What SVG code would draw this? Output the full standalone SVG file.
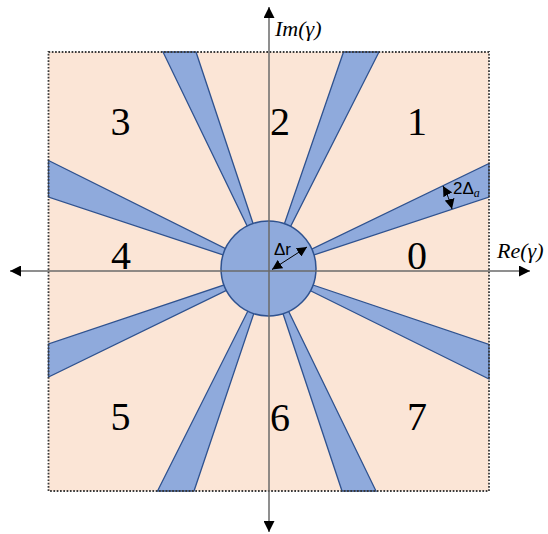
<svg xmlns="http://www.w3.org/2000/svg" width="548" height="534" viewBox="0 0 548 534">
  <defs>
    <style>
      .bg { fill: #FBE5D6; stroke: none; }
      .wedge { fill: #8FAADC; stroke: #2F528F; stroke-width: 1.3; stroke-linejoin: miter; }
      .disc { fill: #8FAADC; stroke: #2F528F; stroke-width: 1.5; }
      .border { fill: none; stroke: #3A3A3A; stroke-width: 1.8; stroke-dasharray: 1.7 1.6; }
      .axis { fill: none; stroke: #6A6A6A; stroke-width: 1.5; }
      .dim { fill: none; stroke: #000; stroke-width: 1; }
      .num { font-family: "Liberation Serif", serif; font-size: 40px; fill: #000; text-anchor: middle; }
      .axl { font-family: "Liberation Serif", serif; font-style: italic; font-size: 22px; fill: #000; }
      .small { font-family: "Liberation Sans", sans-serif; font-size: 17px; fill: #000; }
    </style>
    <marker id="ah" viewBox="0 0 12 12" refX="12" refY="6" markerWidth="12" markerHeight="11" orient="auto-start-reverse" markerUnits="userSpaceOnUse">
      <path d="M0,0 L12,6 L0,12 z" fill="#000"/>
    </marker>
    <marker id="sa" viewBox="0 0 10 10" refX="10" refY="5" markerWidth="10" markerHeight="10" orient="auto-start-reverse" markerUnits="userSpaceOnUse">
      <path d="M0,0 L10,5 L0,10 z" fill="#000"/>
    </marker>
  </defs>

  <rect class="bg" x="48.5" y="52" width="440.5" height="439"/>

  <g id="wedges">
    <polygon class="wedge" points="163,52 196,52 268.5,270"/>
    <polygon class="wedge" points="343.5,52 379,52 268.5,270"/>
    <polygon class="wedge" points="489,163.5 489,197 268.5,270"/>
    <polygon class="wedge" points="489,344.5 489,379 268.5,270"/>
    <polygon class="wedge" points="376,491 342,491 268.5,270"/>
    <polygon class="wedge" points="194,491 157.5,491 268.5,270"/>
    <polygon class="wedge" points="48.5,377 48.5,344 268.5,270"/>
    <polygon class="wedge" points="48.5,197 48.5,160.5 268.5,270"/>
  </g>

  <g id="center-disc">
    <circle class="disc" cx="268.5" cy="268.5" r="47.5"/>
  </g>

  <rect class="border" x="48.5" y="52" width="440.5" height="439"/>

  <g id="axes">
    <line class="axis" x1="530" y1="271" x2="10" y2="271" marker-start="url(#ah)" marker-end="url(#ah)"/>
    <line class="axis" x1="269" y1="7" x2="269" y2="532" marker-start="url(#ah)" marker-end="url(#ah)"/>
    <text class="axl" x="275" y="36">Im(γ)</text>
    <text class="axl" x="497" y="258">Re(γ)</text>
  </g>

  <g id="labels">
    <text class="num" x="120.5" y="135">3</text>
    <text class="num" x="280" y="135">2</text>
    <text class="num" x="417" y="135">1</text>
    <text class="num" x="121" y="269">4</text>
    <text class="num" x="417" y="269">0</text>
    <text class="num" x="120.5" y="430">5</text>
    <text class="num" x="280" y="431">6</text>
    <text class="num" x="417" y="430">7</text>
  </g>

  <g id="dim-r">
    <line class="dim" x1="272" y1="269.5" x2="307" y2="247" marker-start="url(#sa)" marker-end="url(#sa)"/>
    <text class="small" x="274" y="255">Δr</text>
  </g>

  <g id="dim-a">
    <path class="dim" d="M443,186 Q449,197 452,209" marker-start="url(#sa)" marker-end="url(#sa)"/>
    <text class="small" x="453" y="194" font-size="16">2Δ<tspan font-family="Liberation Serif, serif" font-style="italic" font-size="12" dy="3">a</tspan></text>
  </g>
</svg>
